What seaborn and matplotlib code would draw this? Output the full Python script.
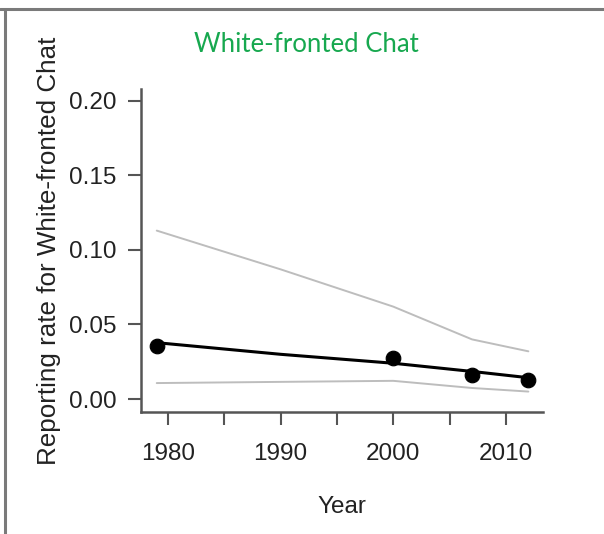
import matplotlib
matplotlib.use("Agg")
import matplotlib.pyplot as plt
import seaborn as sns
import pandas as pd
from matplotlib.lines import Line2D

# survey years and observed reporting rates
years = [1979, 2000, 2007, 2012]
observed = [0.0356, 0.0275, 0.0162, 0.0128]

# fitted trend with confidence band
fit_years = [1979, 1990, 2000, 2007, 2012]
fit = [0.0378, 0.0300, 0.0240, 0.0185, 0.0143]
ci_upper = [0.113, 0.087, 0.062, 0.040, 0.032]
ci_lower = [0.0107, 0.0115, 0.0122, 0.0074, 0.0050]

y_ticks = [0.00, 0.05, 0.10, 0.15, 0.20]
x_ticks = [1980, 1985, 1990, 1995, 2000, 2005, 2010]

sns.set_style("ticks")
plt.rcParams["font.family"] = ["Liberation Sans", "DejaVu Sans"]

df_fit = pd.DataFrame({"year": fit_years, "fit": fit, "upper": ci_upper, "lower": ci_lower})
df_obs = pd.DataFrame({"year": years, "rate": observed})

fig = plt.figure(figsize=(6.04, 5.34), dpi=100)
ax = fig.add_axes([0.2334, 0.2285, 0.6656, 0.6048])

sns.lineplot(data=df_fit, x="year", y="upper", color="#bdbdbd", lw=1.4, ax=ax)
sns.lineplot(data=df_fit, x="year", y="lower", color="#bdbdbd", lw=1.4, ax=ax)
sns.lineplot(data=df_fit, x="year", y="fit", color="black", lw=2.2, ax=ax)
sns.scatterplot(data=df_obs, x="year", y="rate", color="black", s=110, edgecolor="black", ax=ax, zorder=5)

ax.set_xlim(1977.6, 2013.3)
ax.set_ylim(-0.0087, 0.208)
ax.set_yticks(y_ticks)
ax.set_yticklabels([f"{v:.2f}" for v in y_ticks])
ax.set_xticks(x_ticks)
ax.set_xticklabels([str(v) if v % 10 == 0 else "" for v in x_ticks])

for side in ["top", "right"]:
    ax.spines[side].set_visible(False)
for side in ["left", "bottom"]:
    ax.spines[side].set_color("#555555")
    ax.spines[side].set_linewidth(1.8)
ax.tick_params(axis="both", length=9.5, width=1.5, color="#555555",
               labelsize=17.5, labelcolor="#222222")
ax.tick_params(axis="x", pad=13)
ax.tick_params(axis="y", pad=8)

ax.set_xlabel("Year", fontsize=17.5, color="#222222", labelpad=22)
ax.set_ylabel("Reporting rate for White-fronted Chat", fontsize=18.7, color="#222222", labelpad=6)

fig.text(0.508, 0.917, "White-fronted Chat", ha="center", va="center",
         fontsize=18.5, color="#17a84f", family=["Lato", "DejaVu Sans"])

# grey page frame on top and left
fig.add_artist(Line2D([0, 1], [0.983, 0.983], transform=fig.transFigure, color="#7a7a7a", lw=2.2))
fig.add_artist(Line2D([0.009, 0.009], [0, 0.983], transform=fig.transFigure, color="#7a7a7a", lw=2.2))

fig.savefig("out.png", dpi=100)
